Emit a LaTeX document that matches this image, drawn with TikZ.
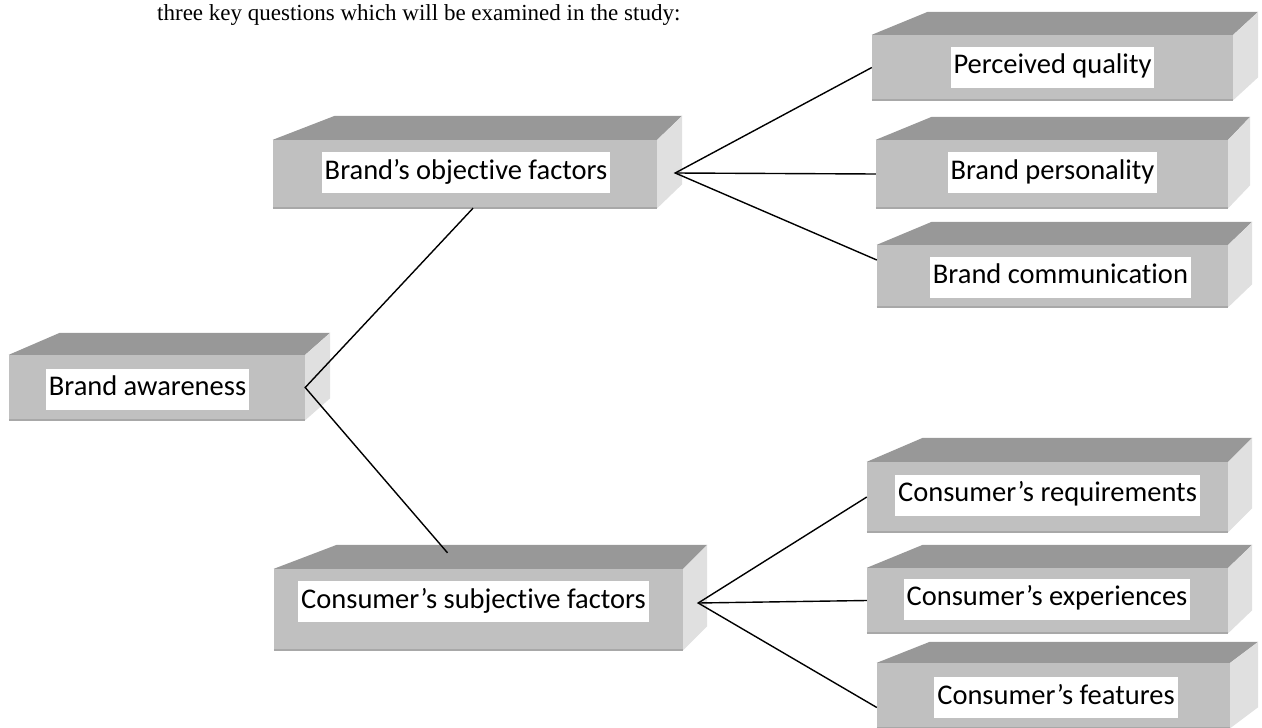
\documentclass[tikz,border=0pt]{standalone}
\usepackage{fontspec}
\setmainfont[Ligatures=NoCommon]{Carlito}
\newfontfamily\timesf{Liberation Serif}
\usetikzlibrary{calc}
\definecolor{frontc}{HTML}{C0C0C0}
\definecolor{topc}{HTML}{989898}
\definecolor{sidec}{HTML}{E0E0E0}
\definecolor{edgec}{HTML}{A8A8A8}
\begin{document}
\begin{tikzpicture}[x=1pt,y=-1pt,
  face/.style={fill=frontc, draw=none, inner sep=0pt},
  lab/.style={fill=white, font=\fontsize{28.5}{34}\selectfont, inner xsep=3pt, inner ysep=7pt, text height=20pt, text depth=7pt},
  conn/.style={draw=black, line width=1.4pt},
  caption/.style={font=\timesf\fontsize{23}{27}\selectfont, inner sep=0pt, anchor=base west}
]
\useasboundingbox (0,0) rectangle (1262,728);
\clip (0,0) rectangle (1262,728);
\fill[white] (0,0) rectangle (1262,728);

\node[caption] (cap) at (157,20) {three key questions which will be examined in the study:};

% front faces
\node[face, minimum width=296pt, minimum height=65pt] (ba)  at (157,387.5) {};
\node[face, minimum width=384pt, minimum height=68pt] (bof) at (465,174) {};
\node[face, minimum width=409pt, minimum height=81pt] (csf) at (478.5,609.5) {};
\node[face, minimum width=361pt, minimum height=65pt] (pq)  at (1052.5,67.5) {};
\node[face, minimum width=352pt, minimum height=68pt] (bp)  at (1052,174) {};
\node[face, minimum width=351pt, minimum height=62pt] (bc)  at (1052.5,276) {};
\node[face, minimum width=361pt, minimum height=70pt] (cr)  at (1047.5,497) {};
\node[face, minimum width=361pt, minimum height=65pt] (ce)  at (1047.5,600.5) {};
\node[face, minimum width=353pt, minimum height=65pt] (cf)  at (1053.5,695.5) {};

% top and right faces
\foreach \n/\l/\r/\d in {ba/51/25/22, bof/62/25/24, csf/63/24/24, pq/56/25/23, bp/56/22/23, bc/55/24/23, cr/56/24/24, ce/56/24/23, cf/53/28/21}{
  \fill[topc] (\n.north west) -- ++(\l,-\d) -- ($(\n.north east)+(\r,-\d)$) -- (\n.north east) -- cycle;
  \fill[sidec] (\n.north east) -- ++(\r,-\d) -- ($(\n.south east)+(\r,-\d)$) -- (\n.south east) -- cycle;
  \draw[edgec, line width=1.5pt] (\n.south west) -- (\n.south east);
}

% labels
\node[lab] (bat)  at (147.5,389) {Brand awareness};
\node[lab] (boft) at (466,172.5) {Brand’s objective factors};
\node[lab] (csft) at (473.5,601.5) {Consumer’s subjective factors};
\node[lab] (pqt)  at (1052.5,67) {Perceived quality};
\node[lab] (bpt)  at (1052.5,172.5) {Brand personality};
\node[lab] (bct)  at (1060.5,277) {Brand communication};
\node[lab] (crt)  at (1047.5,495) {Consumer’s requirements};
\node[lab] (cet)  at (1047,599) {Consumer’s experiences};
\node[lab] (cft)  at (1056,697.5) {Consumer’s features};

% hubs and connector ends
\coordinate (bofhub) at ($(bof.east)+(18,-1)$);
\coordinate (csfhub) at ($(csf.east)+(15,-6.5)$);
\coordinate (bofin) at ($(bof.south)+(8,0)$);
\coordinate (csfin) at ($(csf.north)+(-31,-16)$);
\coordinate (bcin) at ($(bc.west)+(0,-16)$);
\coordinate (cfin) at ($(cf.west)+(0,12)$);

\draw[conn] (bofin) -- (ba.east) -- (csfin);
\draw[conn] (pq.west) -- (bofhub) -- (bcin);
\draw[conn] (bofhub) -- (bp.west);
\draw[conn] (cr.west) -- (csfhub) -- (cfin);
\draw[conn] (csfhub) -- (ce.west);
\end{tikzpicture}
\end{document}
